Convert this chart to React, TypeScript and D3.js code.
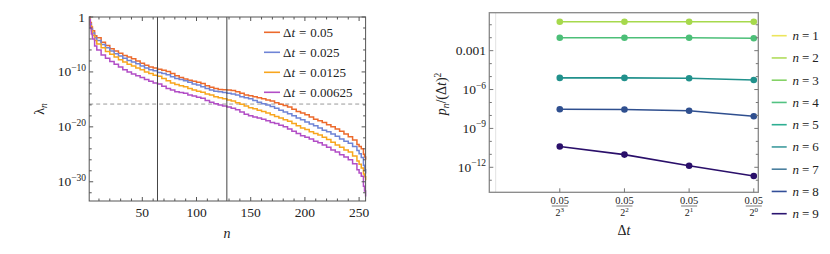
import React from "react";
import * as d3 from "d3";

// ---------- Left panel data: eigenvalues lambda_n (log10 values) ----------
const nGrid = [1, 2, 3, 4, 6, 8,
  12, 16, 20, 24, 28, 32, 36, 40, 44, 48,
  52, 56, 60, 64, 68, 72, 76, 80, 84, 88,
  92, 96, 100, 104, 108, 112, 116, 120, 124, 128,
  132, 136, 140, 144, 148, 152, 156, 160, 164, 168,
  172, 176, 180, 184, 188, 192, 196, 200, 204, 208,
  212, 216, 220, 224, 228, 232, 236, 240, 244, 248,
  250, 252, 254, 255, 256];
const logLambda005 = [0, -1.0, -1.8, -2.5, -3.4, -3.8,
  -4.6, -5.2, -5.8, -6.2, -6.6, -7.0, -7.3, -7.6, -8.0, -8.4,
  -8.8, -9.1, -9.3, -9.5, -9.7, -9.9, -10.3, -10.7, -11.0, -11.3,
  -11.5, -11.7, -11.9, -12.1, -12.5, -12.8, -13.0, -13.2, -13.25, -13.3,
  -13.4, -13.6, -13.9, -14.2, -14.35, -14.5, -14.7, -14.9, -15.1, -15.3,
  -15.6, -15.9, -16.1, -16.4, -16.8, -17.2, -17.5, -17.8, -18.2, -18.6,
  -18.9, -19.2, -19.6, -20.0, -20.4, -20.8, -21.3, -21.8, -22.4, -23.2,
  -23.6, -24.0, -25.0, -25.5, -26.0];
const logLambda0025 = [-0.1, -1.3, -2.2, -2.9, -3.8, -4.3,
  -5.0, -5.6, -6.2, -6.7, -7.1, -7.5, -7.9, -8.2, -8.5, -8.9,
  -9.3, -9.6, -9.8, -10.1, -10.3, -10.5, -10.9, -11.2, -11.4, -11.6,
  -11.9, -12.2, -12.4, -12.7, -13.0, -13.3, -13.5, -13.6, -13.75, -13.9,
  -14.0, -14.2, -14.5, -14.7, -14.9, -15.2, -15.5, -15.8, -16.0, -16.3,
  -16.6, -17.0, -17.3, -17.6, -18.0, -18.4, -18.7, -19.1, -19.5, -19.8,
  -20.2, -20.6, -20.9, -21.3, -21.7, -22.2, -22.6, -23.0, -23.6, -24.3,
  -24.9, -25.6, -27.0, -27.8, -28.5];
const logLambda00125 = [-0.2, -1.6, -2.5, -3.3, -4.3, -4.9,
  -5.6, -6.3, -6.8, -7.3, -7.8, -8.2, -8.6, -8.9, -9.3, -9.6,
  -10.0, -10.3, -10.6, -10.8, -11.2, -11.6, -12.0, -12.3, -12.5, -12.7,
  -13.0, -13.3, -13.5, -13.7, -14.0, -14.2, -14.5, -14.7, -14.9, -15.1,
  -15.3, -15.6, -15.9, -16.2, -16.5, -16.7, -17.0, -17.2, -17.5, -17.8,
  -18.1, -18.4, -18.7, -19.0, -19.4, -19.8, -20.2, -20.5, -20.9, -21.2,
  -21.5, -21.9, -22.3, -22.8, -23.3, -23.7, -24.2, -24.6, -25.3, -26.2,
  -26.8, -27.5, -28.6, -29.1, -29.7];
const logLambda000625 = [-0.4, -2.0, -3.1, -4.0, -5.3, -6.0,
  -6.9, -7.5, -8.1, -8.6, -9.1, -9.6, -10.0, -10.4, -10.7, -11.0,
  -11.4, -11.7, -12.0, -12.2, -12.6, -13.0, -13.3, -13.6, -13.75, -13.9,
  -14.2, -14.4, -14.6, -14.8, -15.2, -15.5, -15.8, -16.0, -16.2, -16.4,
  -16.6, -16.9, -17.3, -17.7, -18.0, -18.2, -18.4, -18.6, -18.9, -19.2,
  -19.4, -19.7, -20.0, -20.4, -20.8, -21.2, -21.6, -21.9, -22.2, -22.6,
  -22.9, -23.3, -23.7, -24.2, -24.6, -25.1, -25.5, -26.0, -26.7, -27.8,
  -28.4, -29.0, -30.8, -31.7, -32.7];
const leftSeriesLabels = ["0.05", "0.025", "0.0125", "0.00625"];
const leftColors = ["#ec6a2c", "#6f84d6", "#f8a61e", "#b24ec6"];
const leftXTicks = [50, 100, 150, 200, 250];
const leftYTicks = [0, -10, -20, -30]; // exponents
const markerN = [64, 128];
const thresholdLog = -15.85;

// ---------- Right panel data: p_n/(dt)^2 ----------
const dtPowers = [3, 2, 1, 0];
const dtBase = 0.05;
const p2 = [0.172, 0.172, 0.172, 0.172];
const p4 = [0.0100, 0.0100, 0.0100, 0.0091];
const p6 = [7.9e-6, 7.9e-6, 7.5e-6, 5.5e-6];
const p8 = [3.0e-8, 2.9e-8, 2.3e-8, 8.7e-9];
const p9 = [4.0e-11, 9.5e-12, 1.3e-12, 2.1e-13];
const rightSeries = [p2, p4, p6, p8, p9];
const rightSeriesColors = ["#a6d94c", "#4cbf78", "#21918c", "#2f4f8f", "#2a0f6a"];
const legendN = [1, 2, 3, 4, 5, 6, 7, 8, 9];
const legendNColors = ["#ece55c", "#b0dc5c", "#84d266", "#52c282", "#2eae92", "#3f9b9e", "#4a7f9e", "#324e98", "#2a1470"];
const rightYLabelTicks = [-3, -6, -9, -12];

const FONT = "Liberation Serif, DejaVu Serif, serif";

export default function App() {
  const lx = d3.scaleLinear().domain([1, 256]).range([89.2, 365.6]);
  const ly = d3.scaleLog().domain([Math.pow(10, -33.5), 1]).range([201, 17]);
  const L = { x0: 89.2, x1: 365.6, y0: 17, y1: 201 };

  const leftData = [logLambda005, logLambda0025, logLambda00125, logLambda000625];
  const line = d3
    .line<[number, number]>()
    .x((d) => lx(d[0]))
    .y((d) => ly(Math.pow(10, d[1])))
    .curve(d3.curveStepAfter);

  const rx = d3.scaleLog().base(2).domain([dtBase / Math.pow(2, 4.09), dtBase / Math.pow(2, -0.07)]).range([489.3, 758.3]);
  const ry = d3.scaleLog().domain([Math.pow(10, -13.93), Math.pow(10, -0.07)]).range([192.3, 12.7]);
  const R = { x0: 489.3, x1: 758.3, y0: 12.7, y1: 192.3 };
  const rline = d3
    .line<[number, number]>()
    .x((d) => rx(d[0]))
    .y((d) => ry(d[1]));

  const leftMinorX = d3.range(10, 260, 10).filter((v) => v % 50 !== 0);
  const leftMinorY = d3.range(-2, -34, -2).filter((v) => v % 10 !== 0);
  const rightMinorY = d3.range(-1, -14, -1);

  const frameColor = "#555";

  return (
    <svg width={830} height={254} style={{ position: "absolute", left: 0, top: 0, background: "#fff", fontFamily: FONT }}>
      {/* ================= LEFT PANEL ================= */}
      <line x1={L.x0} x2={L.x1} y1={ly(Math.pow(10, thresholdLog))} y2={ly(Math.pow(10, thresholdLog))} stroke="#999" strokeWidth={1} strokeDasharray="4,3" />
      {leftData.map((s, i) => (
        <path key={i} d={line(nGrid.map((n, j) => [n, s[j]]) as [number, number][]) || ""} fill="none" stroke={leftColors[i]} strokeWidth={1.5} />
      ))}
      {markerN.map((n) => (
        <line key={n} x1={lx(n)} x2={lx(n)} y1={L.y0} y2={L.y1} stroke="#444" strokeWidth={1} />
      ))}
      <rect x={L.x0} y={L.y0} width={L.x1 - L.x0} height={L.y1 - L.y0} fill="none" stroke={frameColor} strokeWidth={1} />
      {leftXTicks.map((t) => (
        <g key={t}>
          <line x1={lx(t)} x2={lx(t)} y1={L.y1} y2={L.y1 - 4} stroke={frameColor} />
          <line x1={lx(t)} x2={lx(t)} y1={L.y0} y2={L.y0 + 4} stroke={frameColor} />
          <text x={lx(t)} y={217} textAnchor="middle" fontSize={13.5} fill="#222">{t}</text>
        </g>
      ))}
      {leftMinorX.map((t) => (
        <g key={t}>
          <line x1={lx(t)} x2={lx(t)} y1={L.y1} y2={L.y1 - 2.5} stroke={frameColor} />
          <line x1={lx(t)} x2={lx(t)} y1={L.y0} y2={L.y0 + 2.5} stroke={frameColor} />
        </g>
      ))}
      {leftYTicks.map((e) => {
        const y = ly(Math.pow(10, e));
        return (
          <g key={e}>
            <line x1={L.x0} x2={L.x0 + 4} y1={y} y2={y} stroke={frameColor} />
            <line x1={L.x1} x2={L.x1 - 4} y1={y} y2={y} stroke={frameColor} />
            {e === 0 ? (
              <text x={85} y={y + 4.5} textAnchor="end" fontSize={13.5} fill="#222">1</text>
            ) : (
              <text x={86} y={y + 4.5} textAnchor="end" fontSize={13.5} fill="#222">
                10<tspan dy={-5.5} fontSize={9.5}>{"\u2212" + Math.abs(e)}</tspan>
              </text>
            )}
          </g>
        );
      })}
      {leftMinorY.map((e) => {
        const y = ly(Math.pow(10, e));
        return (
          <g key={e}>
            <line x1={L.x0} x2={L.x0 + 2.5} y1={y} y2={y} stroke={frameColor} />
            <line x1={L.x1} x2={L.x1 - 2.5} y1={y} y2={y} stroke={frameColor} />
          </g>
        );
      })}
      <text x={227} y={238} textAnchor="middle" fontSize={14} fontStyle="italic" fill="#222">n</text>
      <text transform="translate(43.5,109) rotate(-90)" textAnchor="middle" fontSize={14} fill="#222">
        λ<tspan dy={3.5} fontSize={9.5} fontStyle="italic">n</tspan>
      </text>
      {leftSeriesLabels.map((lab, i) => {
        const y = 32.3 + i * 20;
        return (
          <g key={lab}>
            <line x1={264} x2={280} y1={y} y2={y} stroke={leftColors[i]} strokeWidth={1.6} />
            <text x={283} y={y + 4.5} fontSize={13} fill="#222">
              Δ<tspan fontStyle="italic">t</tspan>
              <tspan dx={4}>=</tspan>
              <tspan dx={4}>{lab}</tspan>
            </text>
          </g>
        );
      })}

      {/* ================= RIGHT PANEL ================= */}
      <line x1={495.7} x2={495.7} y1={R.y0} y2={R.y1} stroke="#e2e2e2" strokeWidth={1} />
      {rightSeries.map((s, i) => {
        const pts = dtPowers.map((k, j) => [dtBase / Math.pow(2, k), s[j]] as [number, number]);
        return (
          <g key={i}>
            <path d={rline(pts) || ""} fill="none" stroke={rightSeriesColors[i]} strokeWidth={1.6} />
            {pts.map((p, j) => (
              <circle key={j} cx={rx(p[0])} cy={ry(p[1])} r={3.3} fill={rightSeriesColors[i]} />
            ))}
          </g>
        );
      })}
      <rect x={R.x0} y={R.y0} width={R.x1 - R.x0} height={R.y1 - R.y0} fill="none" stroke="#888" strokeWidth={1.3} />
      {rightMinorY.map((e) => {
        const y = ry(Math.pow(10, e));
        const major = rightYLabelTicks.includes(e);
        return (
          <g key={e}>
            <line x1={R.x0} x2={R.x0 + (major ? 4 : 2.5)} y1={y} y2={y} stroke="#777" />
            <line x1={R.x1} x2={R.x1 - (major ? 4 : 2.5)} y1={y} y2={y} stroke="#777" />
          </g>
        );
      })}
      {rightYLabelTicks.map((e) => {
        const y = ry(Math.pow(10, e));
        return e === -3 ? (
          <text key={e} x={486} y={y + 4.5} textAnchor="end" fontSize={13.5} fill="#222">0.001</text>
        ) : (
          <text key={e} x={486} y={y + 4.5} textAnchor="end" fontSize={13.5} fill="#222">
            10<tspan dy={-5.5} fontSize={9.5}>{"\u2212" + Math.abs(e)}</tspan>
          </text>
        );
      })}
      {dtPowers.map((k) => {
        const x = rx(dtBase / Math.pow(2, k));
        return (
          <g key={k}>
            <line x1={x} x2={x} y1={R.y1} y2={R.y1 - 4} stroke="#777" />
            <text x={x} y={204} textAnchor="middle" fontSize={10.5} fill="#222">{dtBase}</text>
            <line x1={x - 8} x2={x + 8} y1={206} y2={206} stroke="#444" strokeWidth={0.7} />
            <text x={x} y={215.5} textAnchor="middle" fontSize={10} fill="#222">
              2<tspan dy={-3.5} fontSize={7}>{k}</tspan>
            </text>
          </g>
        );
      })}
      <text x={624} y={234.5} textAnchor="middle" fontSize={14} fill="#222">
        Δ<tspan fontStyle="italic">t</tspan>
      </text>
      <text transform="translate(446,94) rotate(-90)" textAnchor="middle" fontSize={14} fill="#222">
        <tspan fontStyle="italic">p</tspan>
        <tspan dy={3} fontSize={9.5} fontStyle="italic">n</tspan>
        <tspan dy={-3}>/(Δ</tspan>
        <tspan fontStyle="italic">t</tspan>
        <tspan>)</tspan>
        <tspan dy={-5.5} fontSize={9.5}>2</tspan>
      </text>
      {legendN.map((n, i) => {
        const y = 35.7 + i * 22.25;
        return (
          <g key={n}>
            <line x1={771.7} x2={786.7} y1={y} y2={y} stroke={legendNColors[i]} strokeWidth={1.6} />
            <text x={792.5} y={y + 4.5} fontSize={13} fill="#222">
              <tspan fontStyle="italic">n</tspan>
              <tspan dx={3}>=</tspan>
              <tspan dx={3}>{n}</tspan>
            </text>
          </g>
        );
      })}
    </svg>
  );
}
